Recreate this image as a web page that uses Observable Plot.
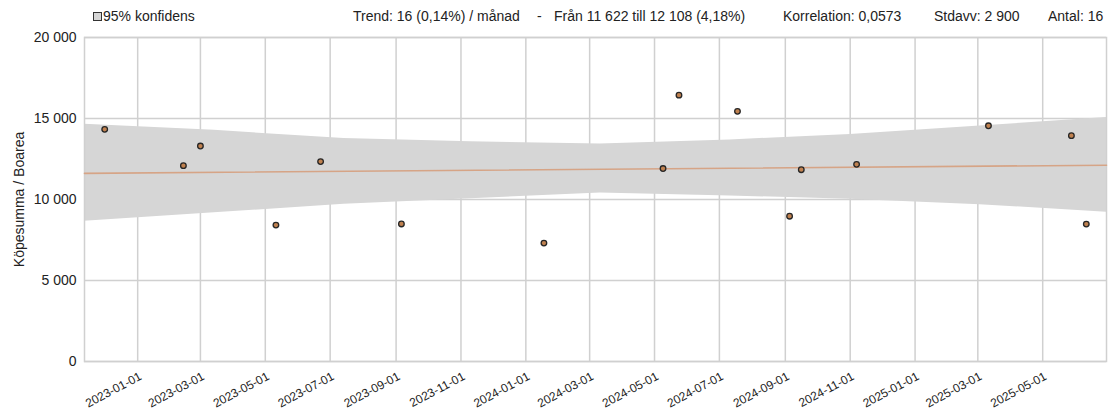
<!DOCTYPE html>
<html>
<head>
<meta charset="utf-8">
<script src="https://cdn.jsdelivr.net/npm/d3@7"></script>
<script src="https://cdn.jsdelivr.net/npm/@observablehq/plot@0.6"></script>
<style>
  body { margin: 0; background: #fff; font-family: "Liberation Sans", Arial, sans-serif; }
  #wrap { position: relative; width: 1112px; height: 414px; }
  #head { position: relative; height: 30px; font-size: 14px; color: #222; }
  #head span { position: absolute; top: 9px; line-height: 14px; white-space: pre; }
  #head .sq { position: absolute; left: 93px; top: 12px; width: 7px; height: 7px; background: #d6d6d6; border: 1px solid #333; }
  #chart { position: absolute; left: 0; top: 30px; }
</style>
</head>
<body>
<div id="wrap">
  <div id="head"></div>
  <div id="chart"></div>
</div>
<script>
// ---- data ----
const pointDates = ["2022-12-01","2023-02-13","2023-03-01","2023-05-11","2023-06-22","2023-09-06",
  "2024-01-18","2024-05-09","2024-05-24","2024-07-18","2024-09-05","2024-09-16","2024-11-07",
  "2025-03-11","2025-05-28","2025-06-11"];
const pointValues = [14330, 12090, 13300, 8420, 12340, 8490, 7310, 11910, 16440, 15440, 8970, 11840, 12170, 14550, 13940, 8480];

const bandDates = ["2022-11-12","2023-03-14","2023-07-14","2023-11-10","2024-03-11","2024-07-11","2024-11-01","2025-03-03","2025-06-30"];
const bandHigh  = [14640, 14270, 13760, 13560, 13420, 13680, 14010, 14540, 15060];
const bandLow   = [8650, 9180, 9700, 10050, 10400, 10220, 10010, 9680, 9220];

const trendDates  = ["2022-11-12","2025-06-30"];
const trendValues = [11612, 12117];

const xTickLabels = ["2023-01-01","2023-03-01","2023-05-01","2023-07-01","2023-09-01","2023-11-01",
  "2024-01-01","2024-03-01","2024-05-01","2024-07-01","2024-09-01","2024-11-01",
  "2025-01-01","2025-03-01","2025-05-01"];
const yTicks = [0, 5000, 10000, 15000, 20000];
const xDomain = ["2022-11-12","2025-06-30"];

const yLabel = "Köpesumma / Boarea";
const legendLabel = "95% konfidens";
const statTexts = [
  {text: "Trend: 16 (0,14%) / månad", left: 353},
  {text: "-", left: 537},
  {text: "Från 11 622 till 12 108 (4,18%)", left: 554},
  {text: "Korrelation: 0,0573", left: 783},
  {text: "Stdavv: 2 900", left: 934},
  {text: "Antal: 16", left: 1048}
];

// ---- header ----
const head = document.getElementById("head");
const sq = document.createElement("div"); sq.className = "sq"; head.appendChild(sq);
const lg = document.createElement("span"); lg.textContent = legendLabel; lg.style.left = "103px"; head.appendChild(lg);
for (const s of statTexts) {
  const el = document.createElement("span"); el.textContent = s.text; el.style.left = s.left + "px"; head.appendChild(el);
}

// ---- tables ----
const parse = d3.utcParse("%Y-%m-%d");
const points = pointDates.map((d, i) => ({date: parse(d), value: pointValues[i]}));
const band = bandDates.map((d, i) => ({date: parse(d), lo: bandLow[i], hi: bandHigh[i]}));
const trend = trendDates.map((d, i) => ({date: parse(d), value: trendValues[i]}));
const xTicks = xTickLabels.map(parse);
const grid = "#d0d0d0";

const chart = Plot.plot({
  width: 1112,
  height: 384,
  marginTop: 7,
  marginBottom: 53,
  marginLeft: 84,
  marginRight: 6,
  style: {fontFamily: "'Liberation Sans', Arial, sans-serif", fontSize: "14px", color: "#222", background: "#fff"},
  x: {type: "utc", domain: xDomain.map(parse)},
  y: {domain: [0, 20000]},
  marks: [
    Plot.gridX(xTicks, {stroke: grid, strokeOpacity: 1, strokeWidth: 1.5}),
    Plot.gridY(yTicks, {stroke: grid, strokeOpacity: 1, strokeWidth: 1.5}),
    Plot.areaY(band, {x: "date", y1: "lo", y2: "hi", fill: "#d6d6d6", fillOpacity: 1}),
    Plot.frame({stroke: grid, strokeWidth: 1.5}),
    Plot.lineY(trend, {x: "date", y: "value", stroke: "#d6a486", strokeWidth: 1.6}),
    Plot.dot(points, {x: "date", y: "value", r: 2.8, fill: "#c0814f", stroke: "#262626", strokeWidth: 1.3}),
    Plot.axisX(xTicks, {tickFormat: d3.utcFormat("%Y-%m-%d"), tickRotate: -28, tickSize: 0, tickPadding: 14, dx: 3, label: null, fontSize: 12}),
    Plot.axisY(yTicks, {tickFormat: d => d3.format(",")(d).replace(/,/g, " "), tickSize: 0, tickPadding: 8,
      label: yLabel, labelAnchor: "center", labelArrow: "none", labelOffset: 70})
  ]
});
document.getElementById("chart").appendChild(chart);
</script>
</body>
</html>
